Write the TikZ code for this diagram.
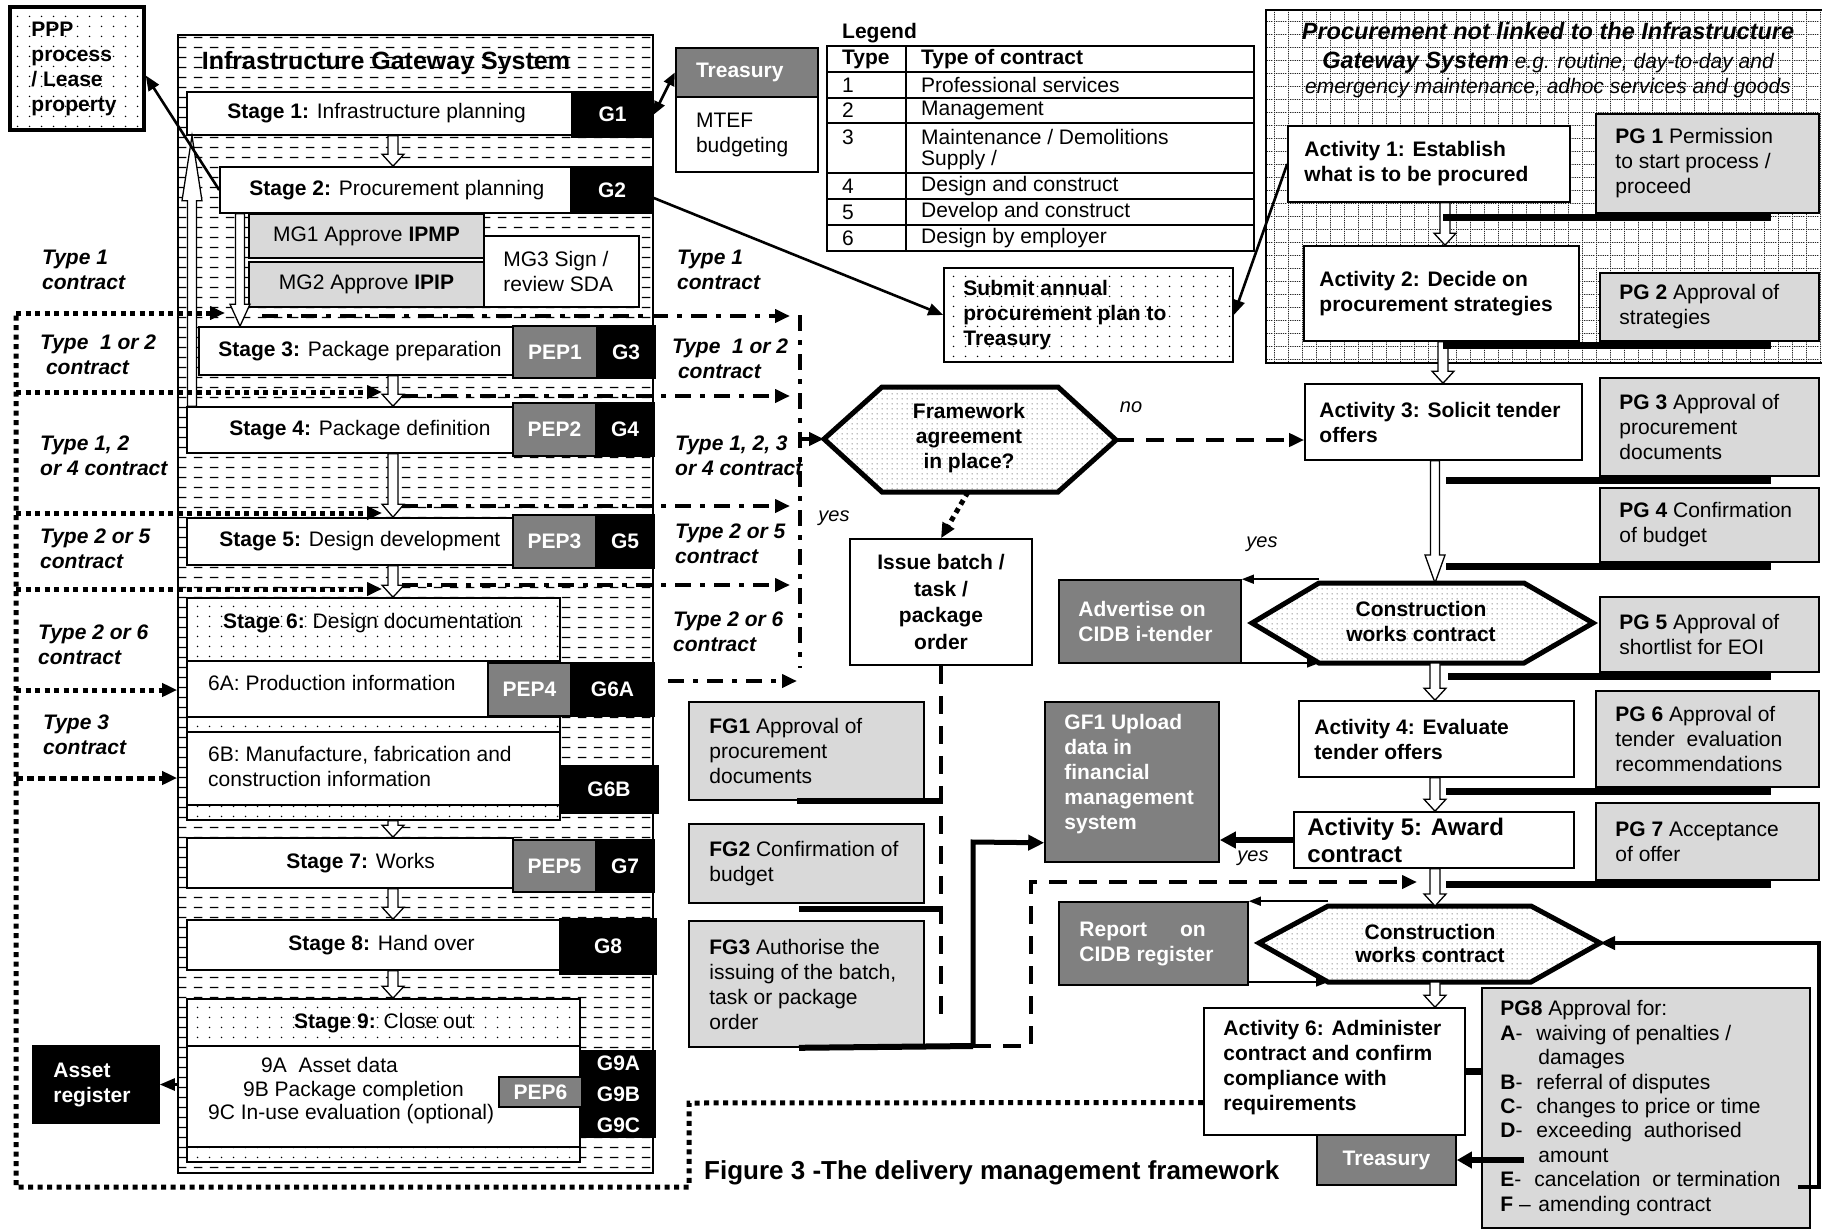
\documentclass[tikz,border=0pt]{standalone}
\usepackage{fontspec}
\setmainfont{Liberation Sans}
\usetikzlibrary{arrows.meta,calc,patterns}

\definecolor{lgray}{HTML}{D9D9D9}
\definecolor{mgray}{HTML}{808080}

\newcommand\fs{\fontsize{21}{25}\selectfont}

% fill patterns (tile sizes in pt = pixels of the drawing)
\pgfdeclarepatternformonly{hdash}{\pgfqpoint{0pt}{0pt}}{\pgfqpoint{16pt}{10pt}}{\pgfqpoint{16pt}{10pt}}{%
  \pgfsetlinewidth{1.3pt}\pgfpathmoveto{\pgfqpoint{2pt}{5pt}}\pgfpathlineto{\pgfqpoint{11pt}{5pt}}\pgfusepath{stroke}}
\pgfdeclarepatternformonly{sdots}{\pgfqpoint{0pt}{0pt}}{\pgfqpoint{12pt}{10pt}}{\pgfqpoint{12pt}{10pt}}{%
  \pgfpathcircle{\pgfqpoint{6pt}{5pt}}{0.9pt}\pgfusepath{fill}}
\pgfdeclarepatternformonly{fdots}{\pgfqpoint{0pt}{0pt}}{\pgfqpoint{5pt}{5pt}}{\pgfqpoint{5pt}{5pt}}{%
  \pgfpathcircle{\pgfqpoint{2.5pt}{2.5pt}}{0.8pt}\pgfusepath{fill}}
\pgfdeclarepatternformonly{dgrid}{\pgfqpoint{0pt}{0pt}}{\pgfqpoint{14pt}{13pt}}{\pgfqpoint{14pt}{13pt}}{%
  \pgfsetlinewidth{0.9pt}\pgfsetdash{{1.2pt}{1.2pt}}{0pt}%
  \pgfpathmoveto{\pgfqpoint{0pt}{0.5pt}}\pgfpathlineto{\pgfqpoint{14pt}{0.5pt}}%
  \pgfpathmoveto{\pgfqpoint{0.5pt}{0pt}}\pgfpathlineto{\pgfqpoint{0.5pt}{13pt}}%
  \pgfusepath{stroke}}

% a box given by its corners (x1,y1)-(x2,y2), y measured downwards
\newcommand\boxat[6][box]{%
  \pgfmathsetmacro\bxw{#5-#3}\pgfmathsetmacro\bxh{#6-#4}%
  \pgfmathsetmacro\bxx{(#3+#5)/2}\pgfmathsetmacro\bxy{(#4+#6)/2}%
  \node[#1,minimum width=\bxw pt,minimum height=\bxh pt] (#2) at (\bxx,\bxy) {};}
% left-aligned text inside a box, with a left padding
\newcommand\txl[4][]{\node[txt,anchor=west,align=left,#1] (#2-t) at ([xshift=#3pt]#2.west) {#4};}
% centred text inside a box
\newcommand\txc[3][]{\node[txt,align=center,#1] (#2-t) at (#2.center) {#3};}
% hollow block arrow, vertical: x, from, to, head length, half shaft, half head
\newcommand\blockarrow[6]{%
  \draw[line width=1.3pt,fill=white,line join=miter]
    let \p1=(#2), \p2=(#3), \n1={ifthenelse(\y2>\y1,1,-1)} in
    ({(#1)*1pt-(#5)*1pt},\y1) -- ({(#1)*1pt-(#5)*1pt},{\y2-\n1*(#4)*1pt})
    -- ({(#1)*1pt-(#6)*1pt},{\y2-\n1*(#4)*1pt}) -- ({(#1)*1pt},\y2)
    -- ({(#1)*1pt+(#6)*1pt},{\y2-\n1*(#4)*1pt}) -- ({(#1)*1pt+(#5)*1pt},{\y2-\n1*(#4)*1pt})
    -- ({(#1)*1pt+(#5)*1pt},\y1) -- cycle;}

\begin{document}
\begin{tikzpicture}[x=1pt,y=-1pt,
  txt/.style={inner sep=0pt,font=\fs},
  box/.style={draw,line width=1.6pt,fill=white,inner sep=0pt},
  lgbox/.style={box,fill=lgray},
  mgbox/.style={box,fill=mgray},
  bkbox/.style={box,fill=black},
  dotbox/.style={draw,line width=1.6pt,inner sep=0pt,preaction={fill=white},pattern=sdots},
  igsbox/.style={draw,line width=1.6pt,inner sep=0pt,preaction={fill=white},pattern=hdash},
  gridbox/.style={draw,line width=1.6pt,inner sep=0pt,preaction={fill=white},pattern=dgrid,pattern color=black!85},
  wt/.style={text=white,font=\bfseries\fs},
  bt/.style={font=\bfseries\fs},
  arr/.style={line width=2.6pt,-{Triangle[length=15pt,width=12pt]}},
  tarr/.style={line width=1.5pt,-{Triangle[length=12pt,width=9pt]}},
  atip/.style={-{Triangle[length=15pt,width=13pt]}},
  gate/.style={line width=7pt},
  dotl/.style={line width=5pt,dash pattern=on 5pt off 4.5pt},
  ddot/.style={line width=4.8pt,dash pattern=on 16pt off 9pt on 5pt off 9pt},
  dsh/.style={line width=4.8pt,dash pattern=on 18pt off 12pt},
  hexa/.style={line width=5pt,line join=miter,preaction={fill=white},pattern=fdots,pattern color=black!50},
  lab/.style={txt,font=\bfseries\itshape\fs,align=left,anchor=west},
  yn/.style={txt,font=\itshape\fontsize{20}{24}\selectfont},
]
\useasboundingbox (0,0) rectangle (1822,1231);
\fill[white] (0,0) rectangle (1822,1231);

% ---------- procurement outside the gateway system ----------
\boxat[gridbox]{pnl}{1266}{10}{1830}{363}
\node[txt,align=center] (pnl-t) at (1548,60)
  {{\bfseries\itshape\fontsize{23.5}{27}\selectfont Procurement not linked to the Infrastructure}\\[4pt]
   {\bfseries\itshape\fontsize{23.5}{27}\selectfont Gateway System} {\itshape e.g. routine, day-to-day and}\\
   {\itshape emergency maintenance, adhoc services and goods}};

% ---------- infrastructure gateway system ----------
\boxat[igsbox]{igs}{178}{35}{653}{1173}
\node[txt,font=\bfseries\fontsize{25}{30}\selectfont] (igs-t) at (386,63) {Infrastructure Gateway System};

\boxat{s1}{187}{92}{572}{135}\txl{s1}{41}{\textbf{Stage 1:} Infrastructure planning}
\boxat[bkbox]{g1}{572}{92}{653}{137}\txc[wt]{g1}{G1}
\boxat{s2}{220}{167}{571}{213}\txl{s2}{30}{\textbf{Stage 2:} Procurement planning}
\boxat[bkbox]{g2}{571}{167}{653}{213}\txc[wt]{g2}{G2}
\boxat[lgbox]{mg1}{249}{214}{484}{258}\txc{mg1}{MG1 Approve \textbf{IPMP}}
\boxat[lgbox]{mg2}{249}{262}{484}{307}\txc{mg2}{MG2 Approve \textbf{IPIP}}
\boxat{mg3}{484}{236}{639}{307}\txl{mg3}{20}{MG3 Sign /\\review SDA}
\boxat{s3}{199}{327}{513}{375}\txl{s3}{20}{\textbf{Stage 3:} Package preparation}
\boxat[mgbox]{pep1}{513}{326}{597}{378}\txc[wt]{pep1}{PEP1}
\boxat[bkbox]{g3}{597}{326}{655}{378}\txc[wt]{g3}{G3}
\boxat{s4}{187}{407}{513}{453}\txl{s4}{43}{\textbf{Stage 4:} Package definition}
\boxat[mgbox]{pep2}{513}{403}{596}{456}\txc[wt]{pep2}{PEP2}
\boxat[bkbox]{g4}{596}{403}{654}{456}\txc[wt]{g4}{G4}
\boxat{s5}{187}{518}{513}{565}\txl{s5}{33}{\textbf{Stage 5:} Design development}
\boxat[mgbox]{pep3}{513}{515}{596}{568}\txc[wt]{pep3}{PEP3}
\boxat[bkbox]{g5}{596}{515}{654}{568}\txc[wt]{g5}{G5}
\boxat[dotbox]{s6}{187}{598}{560}{820}
\node[txt,anchor=west] (s6-t) at (223,623) {\textbf{Stage 6:} Design documentation};
\boxat{s6a}{187}{661}{560}{717}
\node[txt,anchor=west] (s6a-t) at (208,683) {6A: Production information};
\boxat[mgbox]{pep4}{488}{663}{571}{716}\txc[wt]{pep4}{PEP4}
\boxat[bkbox]{g6a}{571}{663}{654}{716}\txc[wt]{g6a}{G6A}
\boxat{s6b}{187}{732}{560}{805}
\node[txt,anchor=west,align=left] (s6b-t) at (208,766) {6B: Manufacture, fabrication and\\construction information};
\boxat[bkbox]{g6b}{560}{766}{658}{813}\txc[wt]{g6b}{G6B}
\boxat{s7}{187}{838}{513}{888}\txl{s7}{100}{\textbf{Stage 7:} Works}
\boxat[mgbox]{pep5}{513}{840}{596}{892}\txc[wt]{pep5}{PEP5}
\boxat[bkbox]{g7}{596}{840}{654}{892}\txc[wt]{g7}{G7}
\boxat{s8}{187}{920}{560}{970}\txl{s8}{102}{\textbf{Stage 8:} Hand over}
\boxat[bkbox]{g8}{560}{919}{656}{974}\txc[wt]{g8}{G8}
\boxat[dotbox]{s9}{187}{999}{580}{1162}
\node[txt,anchor=west] (s9-t) at (294,1023) {\textbf{Stage 9:} Close out};
\boxat{s9b}{187}{1046}{580}{1147}
\node[txt,anchor=west,align=left,font=\fontsize{21}{23.5}\selectfont] (s9b-t) at (208,1091)
  {\hspace*{53pt}9A\ \ Asset data\\\hspace*{35pt}9B Package completion\\9C In-use evaluation (optional)};
\boxat[mgbox]{pep6}{499}{1077}{582}{1107}\txc[wt]{pep6}{PEP6}
\boxat[bkbox]{g9}{582}{1051}{655}{1137}\txc[wt,font=\bfseries\fontsize{21}{31}\selectfont]{g9}{G9A\\G9B\\G9C}

% stage-to-stage flow
\blockarrow{393}{s1.south}{s2.north}{12}{5}{11}
\blockarrow{240}{s2.south}{s3.north}{22}{4.5}{10}
\blockarrow{192}{s4.north}{s1.south}{65}{4.5}{10}
\blockarrow{393}{s3.south}{s4.north}{12}{5}{11}
\blockarrow{393}{s4.south}{s5.north}{13}{5}{11}
\blockarrow{393}{s5.south}{s6.north}{12}{5}{11}
\blockarrow{393}{s6.south}{s7.north}{12}{5}{11}
\blockarrow{393}{s7.south}{s8.north}{12}{5}{11}
\blockarrow{393}{s8.south}{s9.north}{12}{5}{11}

% ---------- side boxes ----------
\boxat[dotbox,line width=3.5pt]{ppp}{10}{7}{144}{130}
\txl[bt]{ppp}{23}{PPP\\process\\/ Lease\\property}
\boxat[bkbox]{asset}{33}{1046}{159}{1123}\txl[wt]{asset}{21}{Asset\\register}

\boxat[mgbox,line width=2.4pt]{trh}{676}{48}{818}{97}\txl[wt]{trh}{21}{Treasury}
\boxat[box,line width=2.4pt]{mtef}{676}{97}{818}{172}\txl{mtef}{21}{MTEF\\budgeting}

% legend table
\node[txt,anchor=west,font=\bfseries\fs] (leg) at (842,33) {Legend};
\boxat[draw,line width=2.4pt,inner sep=0pt]{lgd}{827}{46}{1254}{251}
\draw[line width=2.4pt] (906,46) -- (906,251);
\foreach \yy in {72,98,123,173,199,225} \draw[line width=2.4pt] (827,\yy) -- (1254,\yy);
\node[txt,anchor=west,font=\bfseries\fs] (lh1) at (842,59) {Type};
\node[txt,anchor=west,font=\bfseries\fs] (lh2) at (921,59) {Type of contract};
\node[txt,anchor=west] (l1a) at (842,85) {1};
\node[txt,anchor=west] (l1b) at (921,85) {Professional services};
\node[txt,anchor=west] (l2a) at (842,110.5) {2};
\node[txt,anchor=west] (l2b) at (921,110.5) {Management};
\node[txt,anchor=west] (l3a) at (842,137) {3};
\node[txt,anchor=west] (l3b) at (921,137) {Maintenance / Demolitions};
\node[txt,anchor=west] (l3c) at (921,160) {Supply /};
\node[txt,anchor=west] (l4a) at (842,186) {4};
\node[txt,anchor=west] (l4b) at (921,186) {Design and construct};
\node[txt,anchor=west] (l5a) at (842,212) {5};
\node[txt,anchor=west] (l5b) at (921,212) {Develop and construct};
\node[txt,anchor=west] (l6a) at (842,238) {6};
\node[txt,anchor=west] (l6b) at (921,238) {Design by employer};

\boxat[dotbox]{sub}{944}{268}{1233}{362}
\txl[bt]{sub}{20}{Submit annual\\procurement plan to\\Treasury}

% ---------- procurement activities ----------
\boxat{act1}{1288}{126}{1570}{202}\txl[bt]{act1}{17}{Activity 1: Establish\\what is to be procured}
\boxat[lgbox]{pg1}{1596}{114}{1819}{213}\txl{pg1}{20}{\textbf{PG 1} Permission\\to start process /\\proceed}
\boxat{act2}{1304}{246}{1579}{341}\txl[bt]{act2}{16}{Activity 2: Decide on\\procurement strategies}
\boxat[lgbox]{pg2}{1600}{273}{1819}{341}\txl{pg2}{20}{\textbf{PG 2} Approval of\\strategies}
\boxat{act3}{1305}{384}{1582}{460}\txl[bt]{act3}{15}{Activity 3: Solicit tender\\offers}
\boxat[lgbox]{pg3}{1600}{378}{1819}{476}\txl{pg3}{20}{\textbf{PG 3} Approval of\\procurement\\documents}
\boxat[lgbox]{pg4}{1600}{488}{1819}{562}\txl{pg4}{20}{\textbf{PG 4} Confirmation\\of budget}
\boxat[lgbox]{pg5}{1600}{597}{1819}{672}\txl{pg5}{20}{\textbf{PG 5} Approval of\\shortlist for EOI}
\boxat{act4}{1299}{701}{1574}{777}\txl[bt]{act4}{16}{Activity 4: Evaluate\\tender offers}
\boxat[lgbox]{pg6}{1596}{691}{1819}{787}\txl{pg6}{20}{\textbf{PG 6} Approval of\\tender\ \ evaluation\\recommendations}
\boxat{act5}{1294}{812}{1574}{868}\txl[font=\bfseries\fontsize{24}{27}\selectfont]{act5}{14}{Activity 5: Award\\contract}
\boxat[lgbox]{pg7}{1596}{803}{1819}{880}\txl{pg7}{20}{\textbf{PG 7} Acceptance\\of offer}
\boxat{act6}{1204}{1008}{1465}{1135}\txl[bt,yshift=4pt]{act6}{20}{Activity 6: Administer\\contract and confirm\\compliance with\\requirements}
\boxat[lgbox]{pg8}{1482}{988}{1810}{1228}
\txl[font=\fontsize{21}{24.4}\selectfont]{pg8}{19}{\textbf{PG8} Approval for:\\
  \makebox[36pt][l]{\textbf{A}-}waiving of penalties /\\
  \hspace*{38pt}damages\\
  \makebox[36pt][l]{\textbf{B}-}referral of disputes\\
  \makebox[36pt][l]{\textbf{C}-}changes to price or time\\
  \makebox[36pt][l]{\textbf{D}-}exceeding\ \ authorised\\
  \hspace*{38pt}amount\\
  \makebox[34pt][l]{\textbf{E}-}cancelation\ \ or termination\\
  \makebox[38pt][l]{\textbf{F} –}amending contract}
\boxat[mgbox]{tr2}{1317}{1135}{1456}{1185}\txc[wt]{tr2}{Treasury}

\boxat[mgbox]{adv}{1059}{580}{1241}{663}\txl[wt]{adv}{20}{Advertise on\\CIDB i-tender}
\boxat[mgbox]{rep}{1059}{902}{1248}{985}\txl[wt]{rep}{21}{Report\hspace{33pt}on\\CIDB register}
\boxat[mgbox]{gf1}{1045}{702}{1219}{862}\txl[wt,yshift=8pt]{gf1}{20}{GF1 Upload\\data in\\financial\\management\\system}

% construction works contract decisions
\draw[hexa] (1252,623) coordinate (h1-w) -- (1319,583) coordinate (h1-tl) -- (1524,583) coordinate (h1-tr)
  -- (1593,623) coordinate (h1-e) -- (1524,663) coordinate (h1-br) -- (1319,663) coordinate (h1-bl) -- cycle;
\node[txt,align=center,font=\bfseries\fs] (h1-t) at (1421,621) {Construction\\works contract};
\draw[hexa] (1259,943) coordinate (h2-w) -- (1328,906) coordinate (h2-tl) -- (1531,906) coordinate (h2-tr)
  -- (1600,943) coordinate (h2-e) -- (1531,982) coordinate (h2-br) -- (1328,982) coordinate (h2-bl) -- cycle;
\node[txt,align=center,font=\bfseries\fontsize{21}{23}\selectfont] (h2-t) at (1430,943) {Construction\\works contract};

% framework agreement decision
\draw[hexa] (824,439) coordinate (fw-w) -- (882,387) coordinate (fw-tl) -- (1058,387) coordinate (fw-tr)
  -- (1116,440) coordinate (fw-e) -- (1058,492) coordinate (fw-br) -- (882,492) coordinate (fw-bl) -- cycle;
\coordinate (fw-s) at (968,492);
\node[txt,align=center,font=\bfseries\fs] (fw-t) at (969,438) {Framework\\agreement\\in place?};

\boxat{issue}{850}{539}{1032}{665}
\txc[font=\bfseries\fontsize{21}{26.5}\selectfont]{issue}{Issue batch /\\task /\\package\\order}
\boxat[lgbox]{fg1}{689}{702}{924}{800}\txl{fg1}{21}{\textbf{FG1} Approval of\\procurement\\documents}
\boxat[lgbox]{fg2}{689}{824}{924}{903}\txl{fg2}{21}{\textbf{FG2} Confirmation of\\budget}
\boxat[lgbox]{fg3}{689}{921}{924}{1047}\txl{fg3}{21}{\textbf{FG3} Authorise the\\issuing of the batch,\\task or package\\order}

% activity flow
\blockarrow{1445}{act1.south}{act2.north}{12}{5}{11}
\blockarrow{1443}{act2.south}{act3.north}{12}{5}{11}
\blockarrow{1435}{act3.south}{h1-tl}{28}{4.5}{10}
\blockarrow{1435}{h1-bl}{act4.north}{12}{5}{11}
\blockarrow{1435}{act4.south}{act5.north}{12}{5}{11}
\blockarrow{1435}{act5.south}{h2-tl}{12}{5}{11}
\blockarrow{1435}{h2-bl}{act6.north}{12}{5}{11}

% gate bars under the approvals
\foreach \g/\xs in {pg1/1443,pg2/1443,pg3/1446,pg4/1446,pg5/1448,pg6/1446,pg7/1446}
  \draw[gate] let \p1=(\g.south east) in ({\xs pt},{\y1-4pt}) -- ({\x1-49pt},{\y1-4pt});
\draw[gate] (act6.east) -- (pg8.west |- act6.east);
\draw[gate,line width=6pt] (fg1.south -| 797,0) -- (fg1.south -| issue.south);
\draw[gate,line width=6pt] ([yshift=-5pt]fg2.south -| 799,0) -- ([yshift=-5pt]fg2.south -| issue.south);
\coordinate (fgend) at (973,1046);
\draw[gate,line width=6pt] (fg3.south -| 799,0) -- (fgend);

% ---------- connectors ----------
\draw[arr] (s2.west) -- ([yshift=-7pt]ppp.east);
\draw[line width=2.6pt,{Triangle[length=13pt,width=11pt]}-{Triangle[length=13pt,width=11pt]}] (g1.east) -- (trh.west);
\draw[arr] ([yshift=-8pt]g2.east) -- (sub.west);
\draw[arr] (act1.west) -- (sub.east);
\draw[arr] (igs.west |- asset.east) -- (asset.east);

% contract-type routes on the left
\coordinate (lc) at (16,313);
\draw[dotl] ([yshift=-31pt]act6.west) -- (689,1103) -- (689,1187) -- (16,1187) -- (lc);
\draw[dotl,atip] (lc) -- (225,313);
\draw[dotl,atip] (16,392) -- (382,392);
\draw[dotl,atip] (16,513) -- (382,513);
\draw[dotl,atip] (16,589) -- (382,589);
\draw[dotl,atip] (16,690) -- (igs.west |- 0,690);
\draw[dotl,atip,dash pattern=on 7pt off 4pt] (16,778) -- (igs.west |- 0,778);
\node[lab] (lt1) at (42,270) {Type 1\\contract};
\node[lab] (lt2) at (40,355) {Type\ \ 1 or 2\\\ contract};
\node[lab] (lt3) at (40,456) {Type 1, 2\\or 4 contract};
\node[lab] (lt4) at (40,549) {Type 2 or 5\\contract};
\node[lab] (lt5) at (38,645) {Type 2 or 6\\contract};
\node[lab] (lt6) at (43,735) {Type 3\\contract};

% contract-type routes on the right
\coordinate (vt) at (800,315);
\coordinate (vb) at (800,668);
\draw[ddot] (vt) -- (vb);
\draw[ddot,atip] (262,316) -- (790,316);
\draw[ddot,atip] (402,396) -- (790,396);
\draw[ddot,atip] (402,506) -- (790,506);
\draw[ddot,atip] (402,585) -- (790,585);
\draw[ddot,atip] (668,681) -- (797,681);
\draw[line width=4.5pt,atip] (800,439) -- (fw-w);
\node[lab] (rt1) at (677,270) {Type 1\\contract};
\node[lab] (rt2) at (672,359) {Type\ \ 1 or 2\\\ contract};
\node[lab] (rt3) at (675,456) {Type 1, 2, 3\\or 4 contract};
\node[lab] (rt4) at (675,544) {Type 2 or 5\\contract};
\node[lab] (rt5) at (673,632) {Type 2 or 6\\contract};

% framework agreement outcomes
\draw[dsh,atip] (fw-e) -- (act3.west |- fw-e);
\node[yn] (no1) at (1131,407) {no};
\draw[dotl,atip] (fw-s) -- (issue.north);
\node[yn] (yes1) at (834,518) {yes};
\draw[dsh] (issue.south) -- (issue.south |- 0,1025);

% financial gates
\draw[line width=5pt,-{Triangle[length=16pt,width=15pt]}] (fgend) -- (fgend |- 0,842) -- ([yshift=20pt]gf1.south west);
\coordinate (a5tip) at (1417,882);
\draw[dsh,atip] (fgend) -- (1031,1046) -- (1031,882) -- (a5tip);
\draw[line width=5.5pt,-{Triangle[length=16pt,width=16pt]}] (act5.west) -- (act5.west -| gf1.east);
\node[yn] (yes3) at (1253,858) {yes};

% CIDB reporting
\draw[tarr] (adv.north east -| h1-tl) -- (adv.north east);
\draw[tarr] (adv.east |- h1-bl) -- (h1-bl);
\node[yn] (yes2) at (1262,544) {yes};
\draw[tarr] (rep.north east -| h2-tl) -- (rep.north east);
\draw[tarr] (rep.east |- h2-bl) -- (h2-bl);

% contract administration approvals
\draw[line width=6pt,-{Triangle[length=15pt,width=16pt]}] ([xshift=43pt]pg8.west |- tr2.east) -- (tr2.east);
\draw[line width=4pt,atip] ([xshift=-13pt]pg8.east |- 0,1187) -- (1819,1187) -- (1819,943) -- (h2-e);

% caption
\node[txt,anchor=west,font=\bfseries\fontsize{26}{30}\selectfont] (cap) at (704,1173) {Figure 3 -The delivery management framework};
\end{tikzpicture}
\end{document}
